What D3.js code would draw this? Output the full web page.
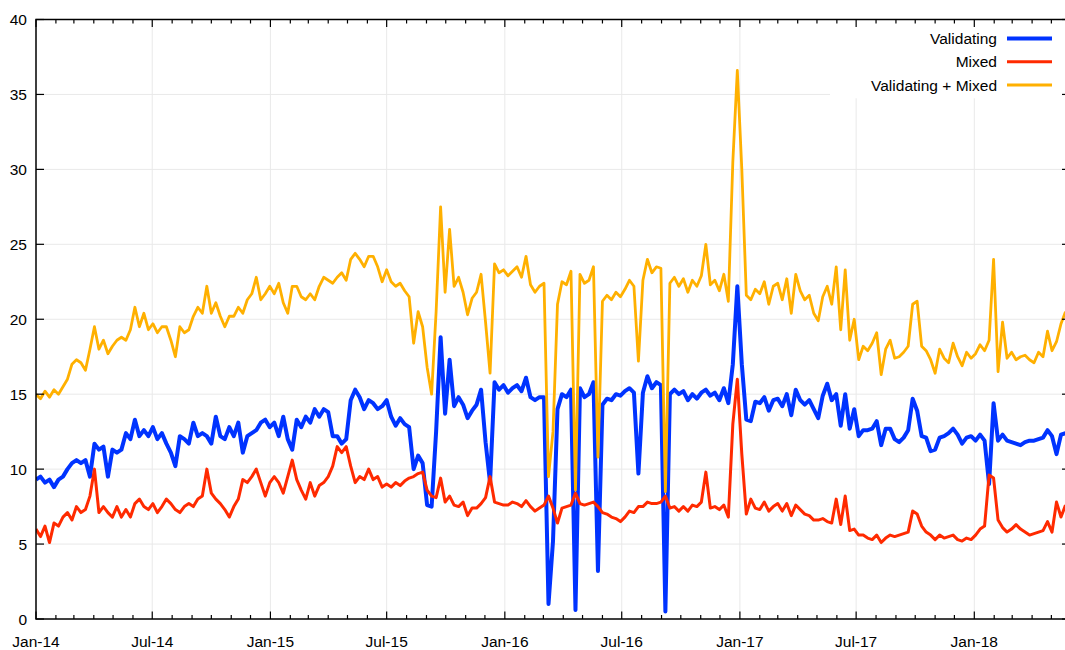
<!DOCTYPE html>
<html>
<head>
<meta charset="utf-8">
<script src="https://cdn.jsdelivr.net/npm/d3@7.9.0/dist/d3.min.js"></script>
<style>
  html, body { margin: 0; padding: 0; background: #fff; }
  svg { display: block; font-family: "Liberation Sans", Arial, Helvetica, sans-serif; }
  .grid line { stroke: #e9e9e9; stroke-width: 1; }
  .tick-label { font-size: 15.5px; fill: #000; }
</style>
</head>
<body>
<svg id="chart" width="1065" height="650"></svg>
<script>
// weekly samples starting 2014-01-01
const firstWeek = '2014-01-01';

const validating = [
  9.3, 9.5, 9.1, 9.3, 8.8, 9.3, 9.5, 10.0, 10.4, 10.6,
  10.4, 10.6, 9.5, 11.7, 11.3, 11.5, 9.5, 11.3, 11.1, 11.3,
  12.4, 12.0, 13.3, 12.2, 12.6, 12.2, 12.8, 12.0, 12.4, 11.7,
  11.1, 10.2, 12.2, 12.0, 11.7, 13.1, 12.2, 12.4, 12.2, 11.7,
  13.5, 12.2, 12.0, 12.8, 12.2, 13.1, 11.1, 12.2, 12.4, 12.6,
  13.1, 13.3, 12.8, 13.1, 12.2, 13.5, 12.0, 11.3, 13.3, 12.8,
  13.5, 13.1, 14.0, 13.5, 14.0, 13.8, 12.2, 12.2, 11.7, 12.0,
  14.6, 15.3, 14.8, 14.0, 14.6, 14.4, 14.0, 14.2, 14.6, 13.5,
  12.9, 13.4, 13.0, 12.8, 10.0, 10.9, 10.4, 7.6, 7.5, 12.5,
  18.8, 13.7, 17.3, 14.2, 14.8, 14.3, 13.4, 13.9, 14.3, 15.3,
  11.8, 9.1, 15.8, 15.3, 15.6, 15.1, 15.4, 15.6, 15.2, 16.1,
  14.8, 14.6, 14.8, 14.8, 1.0, 5.2, 14.0, 15.0, 14.8, 15.3,
  0.6, 15.4, 14.8, 15.0, 15.8, 3.2, 14.3, 14.7, 14.6, 15.0,
  14.9, 15.2, 15.4, 15.1, 9.7, 15.1, 16.2, 15.4, 15.8, 15.6,
  0.5, 15.0, 15.3, 15.0, 15.2, 14.6, 15.0, 14.7, 15.1, 15.3,
  14.9, 15.1, 14.6, 15.4, 14.4, 17.0, 22.2, 17.0, 13.3, 13.2,
  14.5, 14.4, 14.8, 13.9, 14.6, 14.7, 14.2, 15.0, 13.6, 15.3,
  14.6, 14.3, 14.6, 14.0, 13.4, 14.9, 15.7, 14.6, 15.0, 12.9,
  15.0, 12.7, 14.0, 12.2, 12.6, 12.6, 12.7, 13.2, 11.6, 12.7,
  12.7, 12.0, 11.8, 12.1, 12.6, 14.7, 13.9, 12.2, 12.1, 11.2,
  11.3, 12.1, 12.2, 12.4, 12.7, 12.3, 11.7, 12.1, 12.2, 11.9,
  12.3, 11.9, 9.0, 14.4, 11.9, 12.3, 11.9, 11.8, 11.7, 11.6,
  11.8, 11.9, 11.9, 12.0, 12.1, 12.6, 12.2, 11.0, 12.3, 12.4
];

const mixed = [
  6.0, 5.5, 6.2, 5.1, 6.4, 6.2, 6.8, 7.1, 6.6, 7.5,
  7.1, 7.3, 8.2, 10.0, 7.1, 7.5, 7.1, 6.8, 7.5, 6.8,
  7.3, 6.8, 7.7, 8.0, 7.5, 7.3, 7.7, 7.1, 7.5, 8.0,
  7.7, 7.3, 7.1, 7.5, 7.7, 7.5, 8.0, 8.2, 10.0, 8.4,
  8.0, 7.7, 7.3, 6.8, 7.5, 8.0, 9.3, 9.1, 9.5, 10.0,
  9.1, 8.2, 9.1, 9.5, 9.1, 8.4, 9.5, 10.6, 9.3, 8.6,
  8.0, 9.1, 8.2, 8.9, 9.1, 9.5, 10.2, 11.5, 11.1, 11.5,
  10.2, 9.1, 9.5, 9.3, 10.0, 9.3, 9.5, 8.8, 9.0, 8.8,
  9.1, 8.9, 9.2, 9.4, 9.5, 9.7, 9.8, 8.6, 8.2, 8.1,
  9.4, 7.8, 8.2, 7.6, 7.5, 7.8, 6.9, 7.4, 7.4, 7.7,
  8.1, 9.5, 7.8, 7.7, 7.6, 7.6, 7.8, 7.7, 7.5, 7.9,
  7.5, 7.2, 7.4, 7.6, 8.2, 7.4, 6.4, 7.4, 7.5, 7.6,
  8.4, 7.7, 7.6, 7.7, 7.8, 7.5, 7.1, 7.0, 6.8, 6.7,
  6.5, 6.8, 7.2, 7.1, 7.5, 7.5, 7.8, 7.7, 7.7, 7.8,
  8.2, 7.4, 7.5, 7.2, 7.5, 7.2, 7.6, 7.5, 7.8, 9.8,
  7.4, 7.5, 7.3, 7.6, 6.8, 13.0, 16.0, 11.0, 7.0, 8.0,
  7.4, 7.3, 7.8, 7.2, 7.5, 7.7, 7.2, 7.7, 6.9, 7.6,
  7.3, 7.0, 6.9, 6.6, 6.6, 6.7, 6.5, 6.4, 8.0, 6.3,
  8.2, 5.9, 6.0, 5.6, 5.6, 5.4, 5.3, 5.6, 5.1, 5.4,
  5.6, 5.5, 5.6, 5.7, 5.8, 7.2, 7.0, 6.2, 5.8, 5.6,
  5.3, 5.6, 5.4, 5.5, 5.6, 5.3, 5.2, 5.4, 5.3, 5.6,
  6.0, 6.2, 9.6, 9.4, 6.6, 6.1, 5.8, 6.0, 6.3, 6.0,
  5.8, 5.6, 5.7, 5.8, 5.9, 6.5, 5.8, 7.8, 6.8, 7.6
];

const validatingMixed = [
  15.0, 14.7, 15.2, 14.8, 15.3, 15.0, 15.5, 16.0, 17.0, 17.3,
  17.1, 16.6, 18.0, 19.5, 18.0, 18.6, 17.7, 18.2, 18.6, 18.8,
  18.6, 19.3, 20.8, 19.5, 20.4, 19.3, 19.7, 19.1, 19.5, 19.5,
  18.6, 17.5, 19.5, 19.1, 19.3, 20.2, 20.8, 20.4, 22.2, 20.4,
  21.1, 20.2, 19.5, 20.2, 20.2, 20.8, 20.4, 21.3, 21.7, 22.8,
  21.3, 21.7, 22.2, 21.7, 22.4, 21.1, 20.4, 22.2, 22.2, 21.5,
  21.3, 21.7, 21.3, 22.2, 22.8, 22.6, 22.4, 22.8, 23.1, 22.6,
  24.0, 24.4, 24.0, 23.5, 24.2, 24.2, 23.5, 22.5, 23.3, 22.5,
  22.2, 22.4, 21.9, 21.5, 18.4, 20.5, 19.5, 16.8, 15.0, 20.5,
  27.5, 21.8, 26.0, 22.2, 22.8, 21.8, 20.3, 21.4, 21.8, 23.0,
  19.8, 16.4, 23.7, 23.1, 23.3, 22.9, 23.2, 23.5, 22.8, 24.2,
  22.3, 21.8, 22.2, 22.4, 9.5, 12.5, 21.0, 22.5, 22.3, 23.2,
  8.6, 23.0, 22.4, 22.6, 23.5, 10.8, 21.2, 21.6, 21.3, 21.8,
  21.5, 22.0, 22.6, 22.2, 17.2, 22.6, 24.0, 23.1, 23.5, 23.4,
  8.5, 22.4, 22.8, 22.2, 22.7, 21.8, 22.6, 22.2, 22.9, 25.0,
  22.3, 22.6, 21.9, 23.0, 21.2, 30.5, 36.6, 30.0, 21.6, 21.3,
  22.0, 21.7, 22.5, 21.0, 22.2, 22.4, 21.3, 22.7, 20.4, 23.0,
  21.9, 21.3, 21.6, 20.4, 19.9, 21.5, 22.2, 21.0, 23.5, 19.3,
  23.3, 18.6, 20.0, 17.3, 18.2, 17.9, 18.4, 19.1, 16.3, 18.0,
  18.6, 17.4, 17.5, 17.8, 18.2, 21.0, 21.2, 18.2, 17.9, 17.3,
  16.4, 18.0, 17.4, 17.1, 18.4, 17.5, 16.9, 17.8, 17.4, 17.7,
  18.3, 17.9, 18.6, 24.0, 16.5, 19.8, 17.4, 17.8, 17.3, 17.5,
  17.6, 17.3, 17.1, 17.8, 17.5, 19.2, 17.9, 18.5, 19.7, 20.5
];

const seriesNames = ['Validating', 'Mixed', 'Validating + Mixed'];
const seriesColors = ['#0033ff', '#ff2a00', '#ffb000'];
const yTicks = [0, 5, 10, 15, 20, 25, 30, 35, 40];

const width = 1065, height = 650;
const plot = { left: 36, right: 1070, top: 19.5, bottom: 619 };

const parse = d3.timeParse('%Y-%m-%d');
const start = parse(firstWeek);
const dates = validating.map((_, i) => d3.timeDay.offset(start, 7 * i));

const x = d3.scaleTime()
  .domain([start, parse('2018-05-30')])
  .range([plot.left, plot.right]);

const y = d3.scaleLinear().domain([0, 40]).range([plot.bottom, plot.top]);

const svg = d3.select('#chart');

const months = d3.timeMonth.range(start, parse('2018-06-01'));
const majors = months.filter(d => d.getMonth() % 6 === 0);

// gridlines
const grid = svg.append('g').attr('class', 'grid');
grid.selectAll('line.v')
  .data(majors.filter(d => +d !== +start))
  .join('line')
  .attr('x1', d => x(d)).attr('x2', d => x(d))
  .attr('y1', plot.top).attr('y2', plot.bottom);
grid.selectAll('line.h')
  .data(yTicks.filter(d => d > 0 && d < 40))
  .join('line')
  .attr('x1', plot.left).attr('x2', plot.right)
  .attr('y1', d => y(d)).attr('y2', d => y(d));

// data lines
svg.append('clipPath').attr('id', 'clip')
  .append('rect')
  .attr('x', plot.left).attr('y', plot.top)
  .attr('width', plot.right - plot.left).attr('height', plot.bottom - plot.top);

const allSeries = [validating, mixed, validatingMixed];
const widths = [4, 3, 2.8];

const line = d3.line()
  .x((d, i) => x(dates[i]))
  .y(d => y(d));

svg.append('g')
  .attr('clip-path', 'url(#clip)')
  .selectAll('path')
  .data(allSeries)
  .join('path')
  .attr('d', d => line(d))
  .attr('fill', 'none')
  .attr('stroke', (d, i) => seriesColors[i])
  .attr('stroke-width', (d, i) => widths[i])
  .attr('stroke-linejoin', 'round');

// legend box (white, hides gridlines behind it)
svg.append('rect')
  .attr('x', 830).attr('y', plot.top + 0.8)
  .attr('width', 240).attr('height', 78)
  .attr('fill', '#fff');

// axes
const ax = svg.append('g').attr('stroke', '#000');

ax.append('rect')
  .attr('x', plot.left).attr('y', plot.top)
  .attr('width', plot.right - plot.left).attr('height', plot.bottom - plot.top)
  .attr('fill', 'none').attr('stroke-width', 1.5);

const tickLen = d => (d.getMonth() % 6 === 0 ? 7.5 : 4);
ax.selectAll('line.xb')
  .data(months)
  .join('line')
  .attr('x1', d => x(d)).attr('x2', d => x(d))
  .attr('y1', plot.bottom).attr('y2', d => plot.bottom - tickLen(d))
  .attr('stroke-width', 1.2);
ax.selectAll('line.xt')
  .data(months)
  .join('line')
  .attr('x1', d => x(d)).attr('x2', d => x(d))
  .attr('y1', plot.top).attr('y2', d => plot.top + tickLen(d))
  .attr('stroke-width', 1.2);
ax.selectAll('line.yl')
  .data(yTicks)
  .join('line')
  .attr('x1', plot.left).attr('x2', plot.left + 8)
  .attr('y1', d => y(d)).attr('y2', d => y(d))
  .attr('stroke-width', 1.2);
ax.selectAll('line.yr')
  .data(yTicks)
  .join('line')
  .attr('x1', plot.right).attr('x2', plot.right - 8)
  .attr('y1', d => y(d)).attr('y2', d => y(d))
  .attr('stroke-width', 1.2);

const fmt = d3.timeFormat('%b-%y');
svg.append('g')
  .selectAll('text')
  .data(majors)
  .join('text')
  .attr('class', 'tick-label')
  .attr('x', d => x(d))
  .attr('y', 647)
  .attr('text-anchor', 'middle')
  .text(d => fmt(d));

svg.append('g')
  .selectAll('text')
  .data(yTicks)
  .join('text')
  .attr('class', 'tick-label')
  .attr('x', 27)
  .attr('y', d => y(d))
  .attr('dy', '0.36em')
  .attr('text-anchor', 'end')
  .text(d => d);

// legend
const legend = svg.append('g')
  .selectAll('g')
  .data(seriesNames)
  .join('g')
  .attr('transform', (d, i) => `translate(0,${38.5 + i * 23.3})`);

legend.append('text')
  .attr('class', 'tick-label')
  .attr('x', 997)
  .attr('dy', '0.36em')
  .attr('text-anchor', 'end')
  .text(d => d);

legend.append('line')
  .attr('x1', 1007).attr('x2', 1052)
  .attr('stroke', (d, i) => seriesColors[i])
  .attr('stroke-width', (d, i) => (i === 0 ? 4 : 3));
</script>
</body>
</html>
